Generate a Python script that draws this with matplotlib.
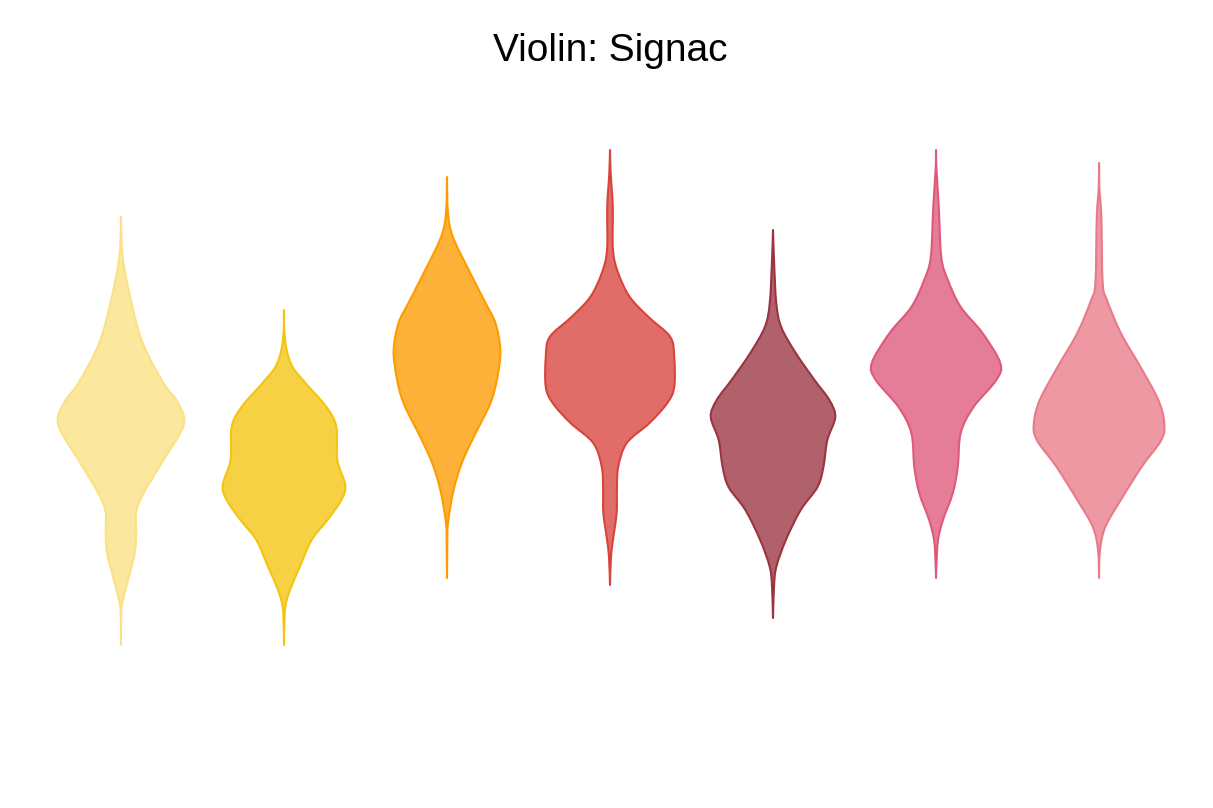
import numpy as np
import matplotlib
matplotlib.use("Agg")
import matplotlib.pyplot as plt
from matplotlib.path import Path
from matplotlib.patches import PathPatch
from matplotlib.colors import to_rgba

plt.rcParams["font.family"] = ["Liberation Sans", "DejaVu Sans"]

# MetBrewer "Signac", first seven colours
colors = ["#fbe183", "#f4c40f", "#fe9b00", "#d8443c", "#9b3441", "#de597c", "#e87b89"]

# density profiles: value -> half width (relative)
y1 = [9.66, 8.86, 8.00, 7.14, 6.34, 6.00, 5.64, 5.34, 4.80, 4.14, 3.76, 3.34, 2.94, 2.54, 2.00, 1.74, 1.10]
d1 = [0.0, 1.7, 10, 22, 43, 56, 64, 60, 43, 23, 15.5, 15.5, 14, 9, 2, 0.3, 0.0]

y2 = [7.80, 7.40, 7.00, 6.66, 6.34, 5.86, 5.46, 4.80, 4.30, 4.00, 3.60, 3.20, 2.66, 2.20, 1.86, 1.46, 1.10]
d2 = [0.0, 0.3, 2.7, 8.7, 21.7, 43, 53, 54, 62, 58, 44, 28, 16, 6, 1.3, 0.3, 0.0]

y3 = [10.46, 9.74, 9.26, 8.60, 7.94, 7.54, 7.00, 6.46, 5.94, 5.26, 4.74, 4.20, 3.54, 3.06, 2.44]
d3 = [0.0, 1, 6, 22, 39, 49, 54, 51, 44, 27, 15, 6.7, 1, 0.3, 0.0]

y4 = [11.00, 10.54, 9.86, 9.00, 8.54, 8.06, 7.66, 7.26, 6.86, 6.26, 5.94, 5.54, 5.14, 4.66, 4.20, 3.74, 3.20, 2.86, 2.30]
d4 = [0.0, 0.7, 2.8, 3, 8.3, 20, 39, 61, 65, 65, 58, 40, 17, 8.3, 7, 6.7, 3, 1, 0.0]

y5 = [9.40, 8.80, 7.94, 7.46, 6.94, 6.40, 6.00, 5.66, 5.20, 4.66, 4.26, 3.80, 3.20, 2.66, 2.26, 1.64]
d5 = [0.0, 1, 3.3, 8.3, 23, 42, 57, 63, 55, 51, 45, 28, 13, 3.3, 1, 0.0]

y6 = [11.00, 10.66, 9.86, 8.86, 8.40, 7.86, 7.34, 6.74, 6.40, 5.86, 5.34, 4.66, 4.14, 3.60, 3.20, 2.74, 2.44]
d6 = [0.0, 0.3, 2.8, 5.3, 12, 25, 47, 65, 61, 38, 25, 22, 17, 7, 2, 0.5, 0.0]

y7 = [10.74, 10.26, 9.66, 8.34, 8.00, 7.34, 6.66, 6.00, 5.54, 5.20, 4.66, 4.00, 3.46, 3.00, 2.44]
d7 = [0.0, 0.3, 2.3, 3.7, 8, 22, 42, 60, 66, 63, 43, 22, 6.3, 1, 0.0]

profiles = [(y1, d1), (y2, d2), (y3, d3), (y4, d4), (y5, d5), (y6, d6), (y7, d7)]
max_d = max(max(d) for _, d in profiles)
half_width = 0.4


def smooth_side(pts):
    # catmull-rom through the points, as bezier segments
    n = len(pts)
    verts, codes = [], []
    for k in range(n - 1):
        p_prev = pts[max(k - 1, 0)]
        p0, p1 = pts[k], pts[k + 1]
        p_next = pts[min(k + 2, n - 1)]
        c1 = p0 + (p1 - p_prev) / 6
        c2 = p1 - (p_next - p0) / 6
        verts += [c1, c2, p1]
        codes += [Path.CURVE4] * 3
    return verts, codes


fig = plt.figure(figsize=(12.13, 8.08), dpi=100)
ax = fig.add_axes([0, 0, 1, 1])

for i, ((ys, ds), c) in enumerate(zip(profiles, colors)):
    ys = np.array(ys)
    w = np.array(ds) / max_d * half_width
    left = np.column_stack([i - w, ys])
    right = np.column_stack([i + w, ys])[::-1]
    v1, c1 = smooth_side(left)
    v2, c2 = smooth_side(right)
    verts = [left[0]] + v1 + v2 + [left[0]]
    codes = [Path.MOVETO] + c1 + c2 + [Path.CLOSEPOLY]
    patch = PathPatch(Path(verts, codes), facecolor=to_rgba(c, 0.78), edgecolor=c,
                      lw=1.5, joinstyle="round")
    ax.add_patch(patch)

ax.set_xlim(-0.742, 6.699)
ax.set_ylim(-2.16, 14)
ax.axis("off")

fig.text(0.503, 0.937, "Violin: Signac", ha="center", va="center", fontsize=28)

fig.savefig("out.png", dpi=100)
